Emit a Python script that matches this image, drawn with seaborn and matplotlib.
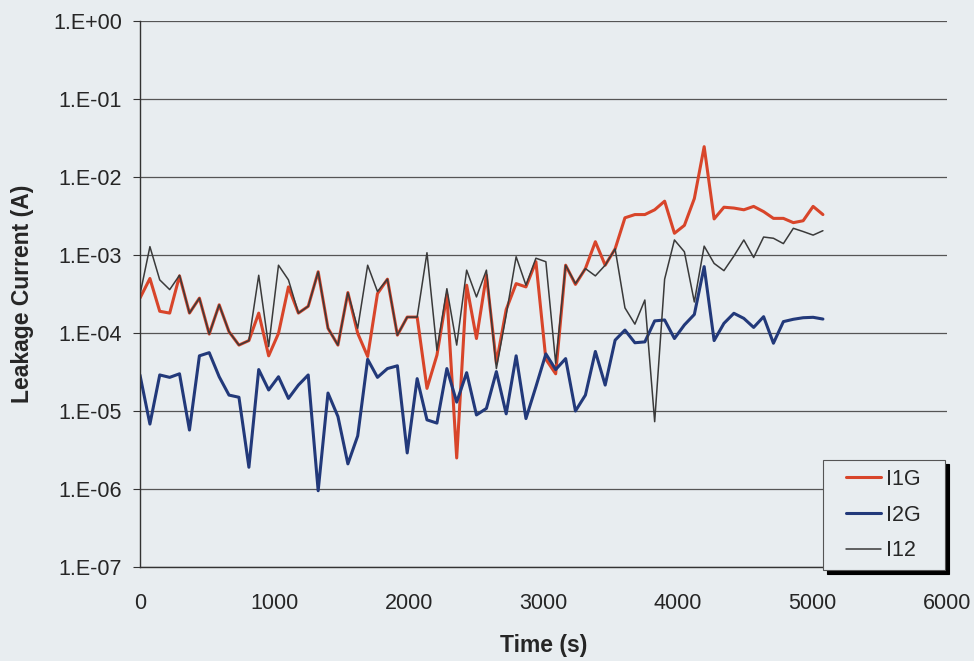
import matplotlib
matplotlib.use("Agg")
import matplotlib.pyplot as plt
from matplotlib.ticker import FixedLocator, NullLocator
from matplotlib.legend_handler import HandlerLine2D
from matplotlib.lines import Line2D
import seaborn as sns
import pandas as pd

# Sample times (s)
time_s = [0, 74, 147, 221, 294, 368, 442, 515, 589, 662, 736, 810, 883, 957,
          1030, 1104, 1178, 1251, 1325, 1398, 1472, 1546, 1619, 1693, 1766,
          1840, 1914, 1987, 2061, 2134, 2208, 2282, 2355, 2429, 2502, 2576,
          2650, 2723, 2797, 2870, 2944, 3018, 3091, 3165, 3238, 3312, 3386,
          3459, 3533, 3606, 3680, 3754, 3827, 3901, 3974, 4048, 4122, 4195,
          4269, 4342, 4416, 4490, 4563, 4637, 4710, 4784, 4858, 4931, 5005, 5078]

# Leakage currents (A)
i1g = [2.8e-4, 5.0e-4, 1.9e-4, 1.8e-4, 5.4e-4, 1.8e-4, 2.8e-4, 9.7e-5, 2.3e-4, 1.04e-4,
       7.0e-5, 8.0e-5, 1.8e-4, 5.1e-5, 9.9e-5, 3.9e-4, 1.8e-4, 2.2e-4, 6.1e-4, 1.15e-4,
       7.0e-5, 3.3e-4, 9.9e-5, 5.0e-5, 3.2e-4, 4.9e-4, 9.4e-5, 1.6e-4, 1.6e-4, 1.95e-5,
       5.2e-5, 3.1e-4, 2.5e-6, 4.1e-4, 8.5e-5, 5.5e-4, 4.1e-5, 2.0e-4, 4.3e-4, 3.9e-4,
       8.2e-4, 4.6e-5, 3.0e-5, 7.4e-4, 4.2e-4, 6.7e-4, 1.48e-3, 7.4e-4, 1.2e-3, 3.0e-3,
       3.3e-3, 3.3e-3, 3.8e-3, 4.9e-3, 1.9e-3, 2.4e-3, 5.3e-3, 2.45e-2, 2.9e-3, 4.1e-3,
       4.0e-3, 3.8e-3, 4.2e-3, 3.6e-3, 2.95e-3, 2.95e-3, 2.6e-3, 2.75e-3, 4.2e-3, 3.3e-3]

i2g = [2.9e-5, 6.8e-6, 2.9e-5, 2.7e-5, 3.0e-5, 5.7e-6, 5.1e-5, 5.6e-5, 2.75e-5, 1.6e-5,
       1.5e-5, 1.9e-6, 3.4e-5, 1.86e-5, 2.75e-5, 1.45e-5, 2.15e-5, 2.9e-5, 9.5e-7, 1.7e-5,
       8.5e-6, 2.1e-6, 4.8e-6, 4.6e-5, 2.7e-5, 3.5e-5, 3.8e-5, 2.9e-6, 2.6e-5, 7.7e-6,
       7.0e-6, 3.5e-5, 1.3e-5, 3.1e-5, 8.9e-6, 1.08e-5, 3.2e-5, 9.2e-6, 5.1e-5, 8.0e-6,
       2.05e-5, 5.4e-5, 3.4e-5, 4.7e-5, 1.0e-5, 1.6e-5, 5.8e-5, 2.15e-5, 8.1e-5, 1.09e-4,
       7.5e-5, 7.7e-5, 1.43e-4, 1.47e-4, 8.5e-5, 1.27e-4, 1.73e-4, 7.1e-4, 8.0e-5, 1.33e-4,
       1.79e-4, 1.54e-4, 1.18e-4, 1.62e-4, 7.4e-5, 1.4e-4, 1.5e-4, 1.57e-4, 1.59e-4, 1.51e-4]

i12 = [3.1e-4, 1.28e-3, 4.8e-4, 3.6e-4, 5.5e-4, 1.8e-4, 2.8e-4, 9.7e-5, 2.3e-4, 1.04e-4,
       7.0e-5, 8.0e-5, 5.5e-4, 6.7e-5, 7.4e-4, 4.8e-4, 1.8e-4, 2.2e-4, 6.1e-4, 1.15e-4,
       7.0e-5, 3.3e-4, 1.15e-4, 7.4e-4, 3.4e-4, 4.9e-4, 9.4e-5, 1.6e-4, 1.6e-4, 1.07e-3,
       6.0e-5, 3.7e-4, 7.0e-5, 6.4e-4, 2.9e-4, 6.4e-4, 3.5e-5, 1.7e-4, 9.5e-4, 4.1e-4,
       9.1e-4, 8.2e-4, 4.1e-5, 7.4e-4, 4.3e-4, 6.7e-4, 5.4e-4, 7.4e-4, 1.2e-3, 2.1e-4,
       1.3e-4, 2.65e-4, 7.3e-6, 4.9e-4, 1.56e-3, 1.1e-3, 2.5e-4, 1.3e-3, 7.8e-4, 6.3e-4,
       9.7e-4, 1.56e-3, 9.3e-4, 1.7e-3, 1.64e-3, 1.4e-3, 2.2e-3, 2.0e-3, 1.8e-3, 2.05e-3]

series_names = ["I1G", "I2G", "I12"]
y_ticks = [1e-7, 1e-6, 1e-5, 1e-4, 1e-3, 1e-2, 1e-1, 1e0]
y_tick_labels = ["1.E-07", "1.E-06", "1.E-05", "1.E-04", "1.E-03", "1.E-02", "1.E-01", "1.E+00"]
x_ticks = [0, 1000, 2000, 3000, 4000, 5000, 6000]

df = pd.DataFrame({
    "Time (s)": time_s * 3,
    "Current": i1g + i2g + i12,
    "Series": [n for n, s in zip(series_names, [i1g, i2g, i12]) for _ in s],
})

sns.set_theme(style="white")
plt.rcParams["font.family"] = ["Liberation Sans", "DejaVu Sans"]

bg = "#e8edf0"
fig = plt.figure(figsize=(9.74, 6.61), dpi=100, facecolor=bg)
ax = fig.add_axes([0.1437, 0.1422, 0.8285, 0.8260])
ax.set_facecolor(bg)

palette = {"I1G": "#d8452a", "I2G": "#22397a", "I12": "#3a3a3a"}
widths = {"I1G": 2.2, "I2G": 2.2, "I12": 1.1}
for name in series_names:
    sub = df[df["Series"] == name]
    sns.lineplot(data=sub, x="Time (s)", y="Current", ax=ax, color=palette[name],
                 linewidth=widths[name], label=name, estimator=None, sort=False)

ax.set_yscale("log")
ax.set_xlim(0, 6000)
ax.set_ylim(1e-7, 1e0)
ax.yaxis.set_major_locator(FixedLocator(y_ticks))
ax.yaxis.set_minor_locator(NullLocator())
ax.set_yticklabels(y_tick_labels)
ax.set_xticks(x_ticks)
ax.set_xticklabels([str(v) for v in x_ticks])

ax.grid(axis="y", color="#555555", linewidth=0.9)
ax.grid(axis="x", visible=False)
ax.set_axisbelow(True)

for side in ["top", "right"]:
    ax.spines[side].set_visible(False)
for side in ["left", "bottom"]:
    ax.spines[side].set_color("#333333")
    ax.spines[side].set_linewidth(1.0)

ax.tick_params(axis="y", which="major", direction="out", length=5, width=0.8,
               color="#333333", labelsize=15.5, pad=8, left=True)
ax.tick_params(axis="x", which="major", length=0, labelsize=15.5, pad=19)

ax.set_xlabel("Time (s)", fontsize=16.5, fontweight="bold", labelpad=14)
ax.set_ylabel("Leakage Current (A)", fontsize=16.5, fontweight="bold", labelpad=13.5)

# Legend: wide box in the lower-right corner with a solid drop shadow
handles, labels = ax.get_legend_handles_labels()
leg = ax.legend(handles, labels, loc="lower right",
                bbox_to_anchor=(0.846, -0.0055, 0.151, 0.2), mode="expand",
                fontsize=15.5, frameon=True, fancybox=False, edgecolor="#555555",
                facecolor=bg, framealpha=1, handlelength=2.33, handletextpad=0.23,
                labelspacing=0.69, borderpad=0.40, borderaxespad=0,
                handler_map={Line2D: HandlerLine2D(xpad=0.7)},
                shadow={"color": "black", "alpha": 1, "ox": 3, "oy": -3})
leg.get_frame().set_linewidth(0.8)

fig.savefig("out.png", dpi=100, facecolor=bg)
